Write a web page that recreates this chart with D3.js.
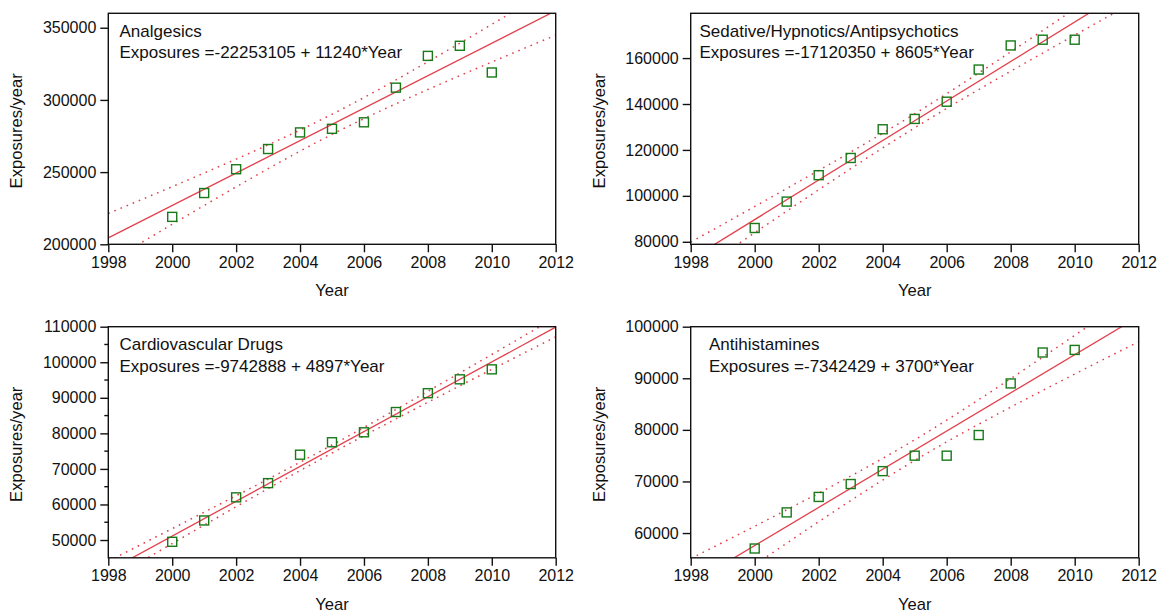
<!DOCTYPE html>
<html>
<head>
<meta charset="utf-8">
<script src="https://cdn.jsdelivr.net/npm/d3@7/dist/d3.min.js"></script>
<style>
  html, body { margin: 0; padding: 0; background: #fff; }
  svg { display: block; }
  text { font-family: "Liberation Sans", Arial, sans-serif; fill: #111; }
</style>
</head>
<body>
<svg id="chart" width="1159" height="614"></svg>
<script>
// ---------- data ----------
const years = [2000, 2001, 2002, 2003, 2004, 2005, 2006, 2007, 2008, 2009, 2010];

const analgesics     = [219000, 235500, 252000, 266000, 277500, 280000, 284500, 308500, 330500, 337500, 319000];
const sedatives      = [86000, 97500, 109000, 116500, 129000, 133500, 141000, 155000, 165500, 168000, 168000];
const cardiovascular = [49500, 55500, 62000, 66000, 74000, 77500, 80300, 86000, 91300, 95200, 98000];
const antihistamines = [57000, 64000, 67000, 69500, 72000, 75000, 75000, 79000, 89000, 95000, 95500];

const titles     = ["Analgesics", "Sedative/Hypnotics/Antipsychotics", "Cardiovascular Drugs", "Antihistamines"];
const intercepts = [-22253105, -17120350, -9742888, -7342429];
const slopes     = [11240, 8605, 4897, 3700];

const xTicks = [1998, 2000, 2002, 2004, 2006, 2008, 2010, 2012];
const yTicksA = [200000, 250000, 300000, 350000];
const yTicksS = [80000, 100000, 120000, 140000, 160000];
const yTicksC = [50000, 60000, 70000, 80000, 90000, 100000, 110000];
const yTicksH = [60000, 70000, 80000, 90000, 100000];

const seriesList = [analgesics, sedatives, cardiovascular, antihistamines];
const yTickList = [yTicksA, yTicksS, yTicksC, yTicksH];

// ---------- layout ----------
const panels = [
  { x0: 108.3, x1: 555.7, y0: 13.3,  y1: 244.3, yDom: [200000, 360000], minor: false, annX: 119.5, yLabX: 22 },
  { x0: 690.7, x1: 1138.7, y0: 13.3, y1: 244.3, yDom: [78900, 179500],  minor: false, annX: 699.5, yLabX: 605 },
  { x0: 108.3, x1: 555.7, y0: 326.7, y1: 557.8, yDom: [45000, 110000],  minor: true,  annX: 119.5, yLabX: 22 },
  { x0: 690.7, x1: 1138.7, y0: 326.7, y1: 557.8, yDom: [55200, 100000], minor: false, annX: 709,   yLabX: 605 }
];
const lineColor = "#e3404c";
const pointColor = "#177a17";
const tickFont = 16;
const titleFont = 16.6;
const annFont = 17;

const svg = d3.select("#chart");

panels.forEach((p, i) => {
  const vals = seriesList[i];
  const a = intercepts[i], b = slopes[i];
  const x = d3.scaleLinear().domain([1998, 2012]).range([p.x0, p.x1]);
  const y = d3.scaleLinear().domain(p.yDom).range([p.y1, p.y0]);
  const g = svg.append("g");

  const clipId = "clip" + i;
  svg.append("defs").append("clipPath").attr("id", clipId)
    .append("rect").attr("x", p.x0).attr("y", p.y0)
    .attr("width", p.x1 - p.x0).attr("height", p.y1 - p.y0);

  // regression statistics for confidence band of the mean
  const n = years.length;
  const xbar = d3.mean(years);
  const sxx = d3.sum(years, t => (t - xbar) * (t - xbar));
  const sse = d3.sum(years, (t, k) => Math.pow(vals[k] - (a + b * t), 2));
  const s = Math.sqrt(sse / (n - 2));
  const tcrit = 2.262;
  const fit = t => a + b * t;
  const half = t => tcrit * s * Math.sqrt(1 / n + (t - xbar) * (t - xbar) / sxx);
  const grid = d3.range(0, 141).map(k => 1998 + k * 0.1);

  const plot = g.append("g").attr("clip-path", `url(#${clipId})`);
  const lineGen = d3.line().x(d => x(d[0])).y(d => y(d[1]));

  plot.append("path")
    .attr("d", lineGen([[1998, fit(1998)], [2012, fit(2012)]]))
    .attr("fill", "none").attr("stroke", lineColor).attr("stroke-width", 1.3);

  [1, -1].forEach(sign => {
    plot.append("path")
      .attr("d", lineGen(grid.map(t => [t, fit(t) + sign * half(t)])))
      .attr("fill", "none").attr("stroke", lineColor).attr("stroke-width", 1.5)
      .attr("stroke-dasharray", "1.6,5");
  });

  // points
  const sz = 9;
  plot.selectAll("rect.pt").data(years).enter().append("rect")
    .attr("class", "pt")
    .attr("x", d => x(d) - sz / 2)
    .attr("y", (d, k) => y(vals[k]) - sz / 2)
    .attr("width", sz).attr("height", sz)
    .attr("fill", "none").attr("stroke", pointColor).attr("stroke-width", 1.4);

  // frame
  g.append("rect").attr("x", p.x0).attr("y", p.y0)
    .attr("width", p.x1 - p.x0).attr("height", p.y1 - p.y0)
    .attr("fill", "none").attr("stroke", "#111").attr("stroke-width", 1.4);

  // x axis
  const xa = g.append("g").attr("transform", `translate(0,${p.y1})`)
    .call(d3.axisBottom(x).tickValues(xTicks).tickFormat(d3.format("d")).tickSize(8).tickPadding(4));
  xa.select(".domain").remove();
  xa.selectAll("line").attr("stroke", "#111").attr("stroke-width", 1.4);
  xa.selectAll("text").attr("font-size", tickFont).attr("fill", "#111")
    .attr("font-family", '"Liberation Sans", Arial, sans-serif');

  // y axis
  const ya = g.append("g").attr("transform", `translate(${p.x0},0)`)
    .call(d3.axisLeft(y).tickValues(yTickList[i]).tickFormat(d3.format("d")).tickSize(8).tickPadding(4));
  ya.select(".domain").remove();
  ya.selectAll("line").attr("stroke", "#111").attr("stroke-width", 1.4);
  ya.selectAll("text").attr("font-size", tickFont).attr("fill", "#111")
    .attr("font-family", '"Liberation Sans", Arial, sans-serif');

  if (p.minor) {
    const ticks = yTickList[i];
    const step = ticks[1] - ticks[0];
    const minors = ticks.slice(0, -1).map(v => v + step / 2).concat([ticks[0] - step / 2])
      .filter(v => v > p.yDom[0] && v < p.yDom[1]);
    g.selectAll("line.minor" + i).data(minors).enter().append("line")
      .attr("x1", p.x0 - 4).attr("x2", p.x0)
      .attr("y1", d => y(d)).attr("y2", d => y(d))
      .attr("stroke", "#111").attr("stroke-width", 1.4);
  }

  // axis titles
  g.append("text").attr("x", (p.x0 + p.x1) / 2).attr("y", p.y1 + 52)
    .attr("text-anchor", "middle").attr("font-size", titleFont).text("Year");
  g.append("text")
    .attr("transform", `translate(${p.yLabX},${(p.y0 + p.y1) / 2 + 2}) rotate(-90)`)
    .attr("text-anchor", "middle").attr("font-size", titleFont).text("Exposures/year");

  // annotation
  g.append("text").attr("x", p.annX).attr("y", p.y0 + 23.4)
    .attr("font-size", annFont).text(titles[i]);
  g.append("text").attr("x", p.annX).attr("y", p.y0 + 45)
    .attr("font-size", annFont).text(`Exposures =${a} + ${b}*Year`);
});
</script>
</body>
</html>
